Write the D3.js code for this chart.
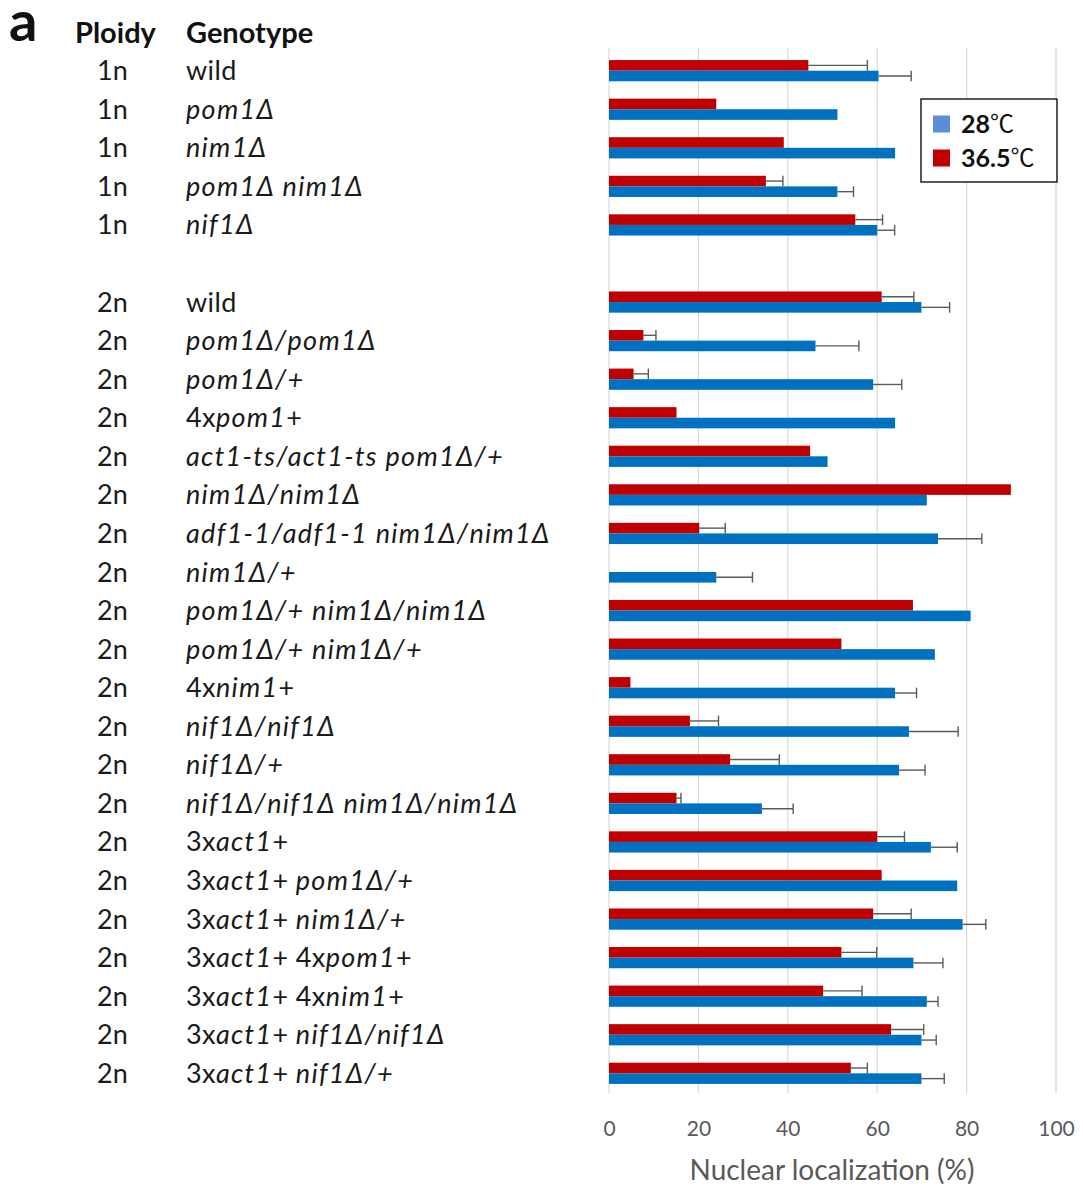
<!DOCTYPE html>
<html>
<head>
<meta charset="utf-8">
<script src="https://cdn.jsdelivr.net/npm/d3@7"></script>
<style>
  html, body { margin: 0; padding: 0; background: #fff; }
  svg { display: block; }
</style>
</head>
<body>
<svg id="chart" width="1083" height="1192"></svg>
<script>
// Strains: ploidy and genotype (<i>…</i> marks italic gene names)
const ploidy = ["1n","1n","1n","1n","1n",
  "2n","2n","2n","2n","2n","2n","2n","2n","2n","2n","2n","2n","2n","2n","2n","2n","2n","2n","2n","2n","2n"];
const genotype = [
  "wild",
  "<i>pom1Δ</i>",
  "<i>nim1Δ</i>",
  "<i>pom1Δ nim1Δ</i>",
  "<i>nif1Δ</i>",
  "wild",
  "<i>pom1Δ/pom1Δ</i>",
  "<i>pom1Δ/+</i>",
  "4x<i>pom1</i>+",
  "<i>act1-ts/act1-ts pom1Δ/+</i>",
  "<i>nim1Δ/nim1Δ</i>",
  "<i>adf1-1/adf1-1 nim1Δ/nim1Δ</i>",
  "<i>nim1Δ/+</i>",
  "<i>pom1Δ/+ nim1Δ/nim1Δ</i>",
  "<i>pom1Δ/+ nim1Δ/+</i>",
  "4x<i>nim1</i>+",
  "<i>nif1Δ/nif1Δ</i>",
  "<i>nif1Δ/+</i>",
  "<i>nif1Δ/nif1Δ nim1Δ/nim1Δ</i>",
  "3x<i>act1</i>+",
  "3x<i>act1</i>+ <i>pom1Δ/+</i>",
  "3x<i>act1</i>+ <i>nim1Δ/+</i>",
  "3x<i>act1</i>+ 4x<i>pom1</i>+",
  "3x<i>act1</i>+ 4x<i>nim1</i>+",
  "3x<i>act1</i>+ <i>nif1Δ/nif1Δ</i>",
  "3x<i>act1</i>+ <i>nif1Δ/+</i>"
];

// Nuclear localization (%) at 28℃ and 36.5℃, with error (null = none)
const value28 = [60.3, 51.1, 64.0, 51.1, 60.0,
  69.9, 46.2, 59.1, 64.0, 48.9, 71.1, 73.6, 24.0, 80.9, 72.9, 64.0,
  67.1, 64.9, 34.2, 72.0, 77.9, 79.1, 68.1, 71.1, 69.9, 69.9];
const err28 = [7.3, null, null, 3.6, 3.9,
  6.3, 9.7, 6.4, null, null, null, 9.8, 8.1, null, null, 4.8,
  11.0, 5.8, 7.0, 5.9, null, 5.2, 6.6, 2.5, 3.3, 5.1];
const value365 = [44.6, 24.0, 39.1, 35.1, 55.1,
  61.0, 7.7, 5.5, 15.1, 45.0, 89.9, 20.2, null, 68.0, 52.0, 4.8,
  18.1, 27.1, 15.1, 60.0, 61.0, 59.1, 52.0, 47.9, 63.1, 54.1];
const err365 = [13.2, null, null, 3.8, 6.1,
  7.2, 2.8, 3.3, null, null, null, 5.8, null, null, null, null,
  6.4, 11.0, 1.0, 6.1, null, 8.5, 7.9, 8.7, 7.3, 3.7];

const xTicks = [0, 20, 40, 60, 80, 100];
const seriesNames = ["28", "36.5"];
const seriesColors = {bar28: "#0070C0", bar365: "#C00000", key28: "#5B8ED6", key365: "#C00000"};

const svg = d3.select("#chart");
const font = "Lato, 'Noto Sans', sans-serif";

// Row keys: haploid block, an empty spacer row, then the diploid block
const rows = ploidy.map((p, i) => ({ key: "r" + i, i }));
const domainKeys = rows.slice(0, 5).map(r => r.key).concat(["gap"], rows.slice(5).map(r => r.key));

const x = d3.scaleLinear().domain([0, 100]).range([609, 1056]);
const y = d3.scaleBand().domain(domainKeys).range([51.4, 1092.6]).padding(0);
const barH = y.bandwidth() * 0.275;
const yc = k => y(k) + y.bandwidth() / 2;

// Vertical gridlines
svg.append("g").selectAll("line").data(xTicks).join("line")
  .attr("x1", d => x(d)).attr("x2", d => x(d))
  .attr("y1", 48).attr("y2", 1093)
  .attr("stroke", "#D9D9D9").attr("stroke-width", 1.2);

// X axis tick labels and title
const axis = d3.axisBottom(x).tickValues(xTicks).tickSize(0).tickPadding(0);
const gx = svg.append("g").attr("transform", "translate(0,1136)").call(axis);
gx.select(".domain").remove();
gx.selectAll("text").attr("font-family", font).attr("font-size", 21)
  .attr("fill", "#595959").attr("dy", 0);

svg.append("text").attr("x", 832).attr("y", 1180)
  .attr("text-anchor", "middle").attr("font-family", font).attr("font-size", 28)
  .attr("fill", "#595959").text("Nuclear localization (%)");

// Bars: 36.5℃ above the row centre, 28℃ below
const bars = svg.append("g");
bars.selectAll("rect.t365").data(rows.filter(r => value365[r.i] != null)).join("rect")
  .attr("x", x(0)).attr("y", r => yc(r.key) - barH)
  .attr("width", r => x(value365[r.i]) - x(0)).attr("height", barH)
  .attr("fill", seriesColors.bar365);
bars.selectAll("rect.t28").data(rows).join("rect")
  .attr("x", x(0)).attr("y", r => yc(r.key))
  .attr("width", r => x(value28[r.i]) - x(0)).attr("height", barH)
  .attr("fill", seriesColors.bar28);

// Error bars (upper side only)
function drawErr(vals, errs, offset) {
  const g = svg.append("g").attr("stroke", "#5A5A5A").attr("stroke-width", 1.4).attr("fill", "none");
  rows.filter(r => errs[r.i] != null && vals[r.i] != null).forEach(r => {
    const cy = yc(r.key) + offset;
    const x0 = x(vals[r.i]), x1 = x(vals[r.i] + errs[r.i]);
    g.append("line").attr("x1", x0).attr("x2", x1).attr("y1", cy).attr("y2", cy);
    g.append("line").attr("x1", x1).attr("x2", x1).attr("y1", cy - barH / 2).attr("y2", cy + barH / 2);
  });
}
drawErr(value365, err365, -barH / 2);
drawErr(value28, err28, barH / 2);

// Row labels
function addRich(sel, str) {
  const parts = str.split(/(<i>|<\/i>)/);
  let ital = false;
  parts.forEach(p => {
    if (p === "<i>") { ital = true; return; }
    if (p === "</i>") { ital = false; return; }
    if (!p) return;
    sel.append("tspan").attr("font-style", ital ? "italic" : "normal")
      .attr("letter-spacing", ital ? 1.3 : 0.4).text(p);
  });
}
const labels = svg.append("g").attr("font-family", font).attr("font-size", 27).attr("fill", "#1A1A1A");
rows.forEach(r => {
  const by = yc(r.key) + 9.5;
  labels.append("text").attr("x", 97).attr("y", by).text(ploidy[r.i]);
  const t = labels.append("text").attr("x", 186).attr("y", by);
  addRich(t, genotype[r.i]);
});

// Panel letter and column headers
svg.append("text").attr("x", 9).attr("y", 41).attr("font-family", font)
  .attr("font-weight", 700).attr("font-size", 56).attr("fill", "#111").text("a");
svg.append("text").attr("x", 75).attr("y", 43).attr("font-family", font)
  .attr("font-weight", 700).attr("font-size", 29).attr("fill", "#111").text("Ploidy");
svg.append("text").attr("x", 186).attr("y", 43).attr("font-family", font)
  .attr("font-weight", 700).attr("font-size", 29).attr("fill", "#111").text("Genotype");

// Legend
const lg = svg.append("g");
lg.append("rect").attr("x", 921).attr("y", 99).attr("width", 136).attr("height", 83)
  .attr("fill", "#fff").attr("stroke", "#111").attr("stroke-width", 1.4);
const keys = [
  { name: seriesNames[0], color: seriesColors.key28, cy: 124 },
  { name: seriesNames[1], color: seriesColors.key365, cy: 158 }
];
keys.forEach(k => {
  lg.append("rect").attr("x", 933).attr("y", k.cy - 8.5).attr("width", 17).attr("height", 17).attr("fill", k.color);
  const t = lg.append("text").attr("x", 961).attr("y", k.cy + 9)
    .attr("font-family", font).attr("font-size", 25).attr("fill", "#111");
  t.append("tspan").attr("font-weight", 700).text(k.name);
  t.append("tspan").attr("font-family", "'Noto Sans CJK JP', sans-serif").attr("font-size", 24)
    .attr("dy", -1).text("℃");
});
</script>
</body>
</html>
